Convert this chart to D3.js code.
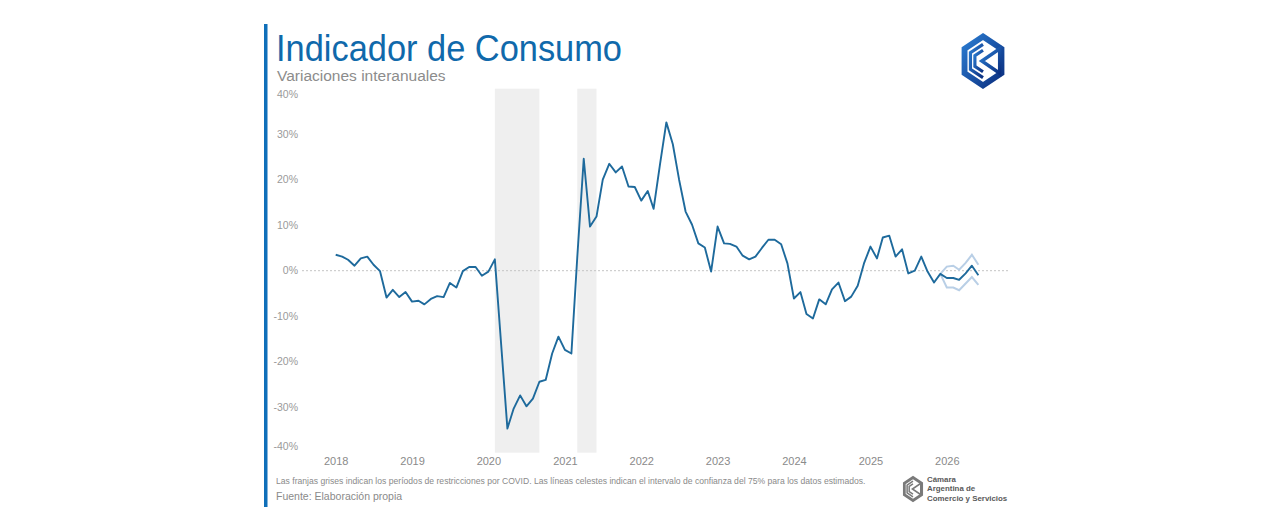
<!DOCTYPE html>
<html>
<head>
<meta charset="utf-8">
<script src="https://cdn.jsdelivr.net/npm/d3@7/dist/d3.min.js"></script>
<style>
  html, body { margin: 0; padding: 0; background: #ffffff; }
  svg { display: block; }
  text { font-family: "Liberation Sans", Arial, sans-serif; }
</style>
</head>
<body>
<svg id="chart" width="1280" height="531"></svg>
<script>
// ---------- DATA ----------
const startYear = 2018;
const values = [
  // 2018
  3.5, 3.1, 2.4, 1.1, 2.7, 3.1, 1.3, -0.1, -5.9, -4.2, -5.8, -4.7,
  // 2019
  -6.8, -6.6, -7.4, -6.2, -5.6, -5.8, -2.7, -3.7, -0.1, 0.8, 0.8, -1.1,
  // 2020
  -0.2, 2.5, -15.5, -34.7, -30.3, -27.4, -29.8, -28.1, -24.4, -24.0, -18.2, -14.5,
  // 2021
  -17.4, -18.2, 2.9, 24.6, 9.7, 11.9, 20.0, 23.5, 21.6, 22.9, 18.5, 18.4,
  // 2022
  15.4, 17.5, 13.6, 23.5, 32.6, 27.8, 20.0, 13.0, 10.1, 6.0, 5.1, -0.2,
  // 2023
  9.7, 6.0, 5.9, 5.3, 3.3, 2.5, 3.1, 5.0, 6.8, 6.8, 5.8, 1.6,
  // 2024
  -6.1, -4.7, -9.5, -10.5, -6.3, -7.4, -4.1, -2.6, -6.7, -5.7, -3.3, 1.6,
  // 2025
  5.3, 2.7, 7.3, 7.7, 3.1, 4.7, -0.6, 0.0, 3.1, -0.2, -2.6, -0.7,
  // 2026
  -1.6, -1.6, -2.0, -0.6, 1.1, -1.0
];
// 75% confidence interval for estimated months (from Dec 2025)
const ciStart = "2025-12";
const ciUpper = [-0.7, 0.9, 1.1, 0.2, 1.7, 3.5, 1.3];
const ciLower = [-0.7, -3.7, -3.7, -4.3, -2.8, -1.4, -3.1];
// COVID restriction periods (start month, end month)
const covidBands = [["2020-02", "2020-09"], ["2021-03", "2021-06"]];
const yearLabels = ["2018", "2019", "2020", "2021", "2022", "2023", "2024", "2025", "2026"];
const yTicks = [-40, -30, -20, -10, 0, 10, 20, 30, 40];

const title = "Indicador de Consumo";
const subtitle = "Variaciones interanuales";
const note = "Las franjas grises indican los períodos de restricciones por COVID. Las líneas celestes indican el intervalo de confianza del 75% para los datos estimados.";
const source = "Fuente: Elaboración propia";
const orgLines = ["Cámara", "Argentina de", "Comercio y Servicios"];

// ---------- HELPERS ----------
const parseMonth = d3.timeParse("%Y-%m");
const series = values.map((v, i) => ({ date: new Date(startYear, i, 1), value: v }));
const ciStartDate = parseMonth(ciStart);
const upperSeries = ciUpper.map((v, i) => ({ date: d3.timeMonth.offset(ciStartDate, i), value: v }));
const lowerSeries = ciLower.map((v, i) => ({ date: d3.timeMonth.offset(ciStartDate, i), value: v }));

// ---------- LAYOUT ----------
const svg = d3.select("#chart");
const x = d3.scaleTime()
  .domain([new Date(2018, 0, 1), new Date(2026, 0, 1)])
  .range([335.7, 946.8]);
const y = d3.scaleLinear().domain([-40, 40]).range([452.7, 88.7]);
const plotLeft = 302, plotRight = 1010;

// left accent bar
svg.append("rect").attr("x", 264).attr("y", 24).attr("width", 3.5).attr("height", 483).attr("fill", "#0f6fb9");

// title
svg.append("text").attr("x", 276).attr("y", 61).attr("font-size", 37).attr("fill", "#1069ab")
  .attr("textLength", 346).attr("lengthAdjust", "spacingAndGlyphs").text(title);
svg.append("text").attr("x", 277).attr("y", 81).attr("font-size", 15.5).attr("fill", "#8c8c8c").text(subtitle);

// covid bands
svg.append("g").selectAll("rect").data(covidBands).join("rect")
  .attr("x", d => x(parseMonth(d[0])))
  .attr("width", d => x(parseMonth(d[1])) - x(parseMonth(d[0])))
  .attr("y", y(40)).attr("height", y(-40) - y(40))
  .attr("fill", "#efefef");

// y axis labels (end labels kept inside plot edges)
const yAxis = d3.axisLeft(y).tickValues(yTicks).tickFormat(d => d + "%").tickSize(0).tickPadding(0);
const gy = svg.append("g").attr("transform", "translate(298,0)").call(yAxis);
gy.select(".domain").remove();
gy.selectAll(".tick").attr("transform", d => `translate(0,${Math.max(94.3, Math.min(446.7, y(d)))})`);
gy.selectAll("text").attr("font-size", 10.5).attr("fill", "#9a9a9a").attr("font-family", "Liberation Sans, Arial, sans-serif");

// x axis labels
const xAxis = d3.axisBottom(x)
  .tickValues(yearLabels.map(s => new Date(+s, 0, 1)))
  .tickFormat(d3.timeFormat("%Y")).tickSize(0).tickPadding(0);
const gx = svg.append("g").attr("transform", "translate(0,457)").call(xAxis);
gx.select(".domain").remove();
gx.selectAll("text").attr("font-size", 11).attr("fill", "#8a8a8a").attr("font-family", "Liberation Sans, Arial, sans-serif");

// zero line
svg.append("line").attr("x1", plotLeft).attr("x2", plotRight).attr("y1", y(0)).attr("y2", y(0))
  .attr("stroke", "#c4c4c4").attr("stroke-width", 1).attr("stroke-dasharray", "2,2");

// lines
const line = d3.line().x(d => x(d.date)).y(d => y(d.value));
svg.append("path").datum(upperSeries).attr("d", line).attr("fill", "none").attr("stroke", "#b9cfe6").attr("stroke-width", 2);
svg.append("path").datum(lowerSeries).attr("d", line).attr("fill", "none").attr("stroke", "#b9cfe6").attr("stroke-width", 2);
svg.append("path").datum(series).attr("d", line).attr("fill", "none").attr("stroke", "#1e6a9c")
  .attr("stroke-width", 1.9).attr("stroke-linejoin", "round");

// footer
svg.append("text").attr("x", 276).attr("y", 484).attr("font-size", 8.6).attr("fill", "#8a8a8a").text(note);
svg.append("text").attr("x", 276).attr("y", 500).attr("font-size", 10.5).attr("fill", "#8a8a8a").text(source);

// ---------- LOGOS ----------
function hexPts(cx, cy, r, sx) {
  return d3.range(6).map(k => {
    const a = -Math.PI / 2 + k * Math.PI / 3;
    return [cx + r * Math.cos(a) * sx, cy + r * Math.sin(a)];
  });
}
const defs = svg.append("defs");
const grad = defs.append("linearGradient").attr("id", "lg").attr("x1", "0").attr("y1", "0").attr("x2", "1").attr("y2", "1");
grad.append("stop").attr("offset", "0").attr("stop-color", "#2a7bd0");
grad.append("stop").attr("offset", "1").attr("stop-color", "#0b2f80");

function drawLogo(g, cx, cy, r, color) {
  const outer = hexPts(cx, cy, r, 0.87);
  g.append("path").attr("d", "M" + outer.map(p => p.join(",")).join("L") + "Z")
    .attr("fill", "none").attr("stroke", color).attr("stroke-width", r * 0.24).attr("stroke-linejoin", "miter");
  [0.68, 0.44].forEach(f => {
    const h = hexPts(cx, cy, r * f, 0.87);
    const pts = [h[0], h[5], h[4], h[3]];
    g.append("path").attr("d", "M" + pts.map(p => p.join(",")).join("L"))
      .attr("fill", "none").attr("stroke", color).attr("stroke-width", r * 0.13);
  });
  const tx = cx + r * 0.68, tt = cy - r * 0.5, tb = cy + r * 0.5;
  g.append("path").attr("d", `M${tx},${tt}L${tx},${tb}L${cx - r * 0.05},${cy}Z`)
    .attr("fill", "none").attr("stroke", color).attr("stroke-width", r * 0.14).attr("stroke-linejoin", "miter");
}
drawLogo(svg.append("g"), 983, 61, 24.5, "url(#lg)");
drawLogo(svg.append("g"), 913, 489, 11.5, "#7a7a7a");

const org = svg.append("g");
orgLines.forEach((s, i) => {
  org.append("text").attr("x", 927).attr("y", 482 + i * 9.3).attr("font-size", 7.9)
    .attr("font-weight", "bold").attr("fill", "#5a5a5a").text(s);
});
</script>
</body>
</html>
